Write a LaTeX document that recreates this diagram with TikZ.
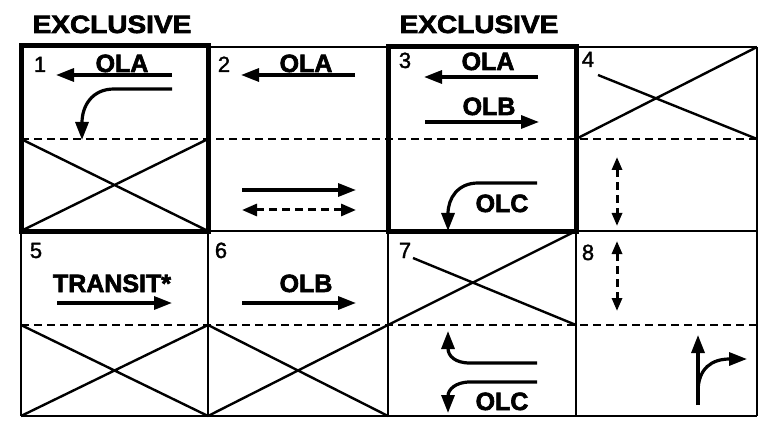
\documentclass[tikz,border=0pt]{standalone}
\usepackage{fontspec}
\setmainfont{Liberation Sans}
\newfontfamily\heavyfont{Liberation Sans Bold}[FakeBold=2.5]
\newfontfamily\digitfont{Liberation Sans}[FakeBold=1.5]
\usetikzlibrary{arrows.meta}
\begin{document}
\begin{tikzpicture}[x=1pt,y=-1pt,
  gridline/.style={line width=2.8pt},
  thickbox/.style={line width=5pt},
  lane/.style={line width=2.8pt, dash pattern=on 8pt off 5pt},
  xline/.style={line width=2.4pt},
  arr/.style={line width=3.2pt,-{Triangle[length=18pt,width=13pt]}},
  darr/.style={line width=3pt,{Triangle[length=15pt,width=12pt]}-{Triangle[length=15pt,width=12pt]},dash pattern=on 8pt off 5pt},
  vdarr/.style={line width=3pt,{Triangle[length=13pt,width=10pt]}-{Triangle[length=13pt,width=10pt]},dash pattern=on 8pt off 5pt},
  lbl/.style={font=\fontsize{25}{25}\selectfont\heavyfont, inner sep=0pt, anchor=base},
  num/.style={font=\fontsize{22}{22}\selectfont\digitfont, inner sep=0pt, anchor=base},
]
\useasboundingbox (0,0) rectangle (759,438);
\fill[white] (0,0) rectangle (759,438);

% headings
\node[lbl] (ex1) at (112,33) {\scalebox{1.12}[1]{EXCLUSIVE}};
\node[lbl] (ex2) at (479,33) {\scalebox{1.12}[1]{EXCLUSIVE}};

% lane dividers (dashed)
\draw[lane] (21,139) -- (757,139);
\draw[lane] (21,325) -- (757,325);

% grid
\draw[gridline] (21,47) -- (757,47);
\draw[gridline] (21,231) -- (757,231);
\draw[gridline] (21,416) -- (757,416);
\foreach \x in {21,208,388,576,757} \draw[gridline] (\x,47) -- (\x,416);

% exclusive boxes
\draw[thickbox] (21,46) rectangle (208,231);
\draw[thickbox] (388,47) rectangle (576,231);

% crossed-out zones
\draw[xline] (21,139) -- (208,231) (21,231) -- (208,139);
\draw[xline] (598,75) -- (757,139) (576,139) -- (757,47);
\draw[xline] (21,325) -- (208,416) (21,416) -- (208,325);
\draw[xline] (208,325) -- (388,416) (208,416) -- (388,325);
\draw[xline] (413,258) -- (576,325) (388,325) -- (576,231);

% numbers
\node[num] (n1) at (40,72) {1};
\node[num] (n2) at (224,72) {2};
\node[num] (n3) at (405,68) {3};
\node[num] (n4) at (588,67) {4};
\node[num] (n5) at (36,258) {5};
\node[num] (n6) at (221,258) {6};
\node[num] (n7) at (405,258) {7};
\node[num] (n8) at (588,260) {8};

% cell 1
\node[lbl] (ola1) at (122,72) {OLA};
\draw[arr] (172,75) -- (56,75);
\draw[arr] (172,89) -- (114,89) .. controls (92,89) and (82,106) .. (82,140);

% cell 2
\node[lbl] (ola2) at (306,72) {OLA};
\draw[arr] (355,75) -- (241,75);
\draw[arr] (242,190) -- (356,190);
\draw[darr] (242,210) -- (356,210);

% cell 3
\node[lbl] (ola3) at (488,70) {OLA};
\draw[arr] (538,77) -- (424,77);
\node[lbl] (olb3) at (489,115) {OLB};
\draw[arr] (425,122) -- (539,122);
\node[lbl] (olc3) at (502,212) {OLC};
\draw[arr] (537,183) -- (478,183) .. controls (458,183) and (448,198) .. (448,231);

% cell 4
\draw[vdarr] (617,157) -- (617,226);

% cell 5
\node[lbl] (tr5) at (112,292) {TRANSIT*};
\draw[arr] (57,303) -- (172,303);

% cell 6
\node[lbl] (olb6) at (306,292) {OLB};
\draw[arr] (242,303) -- (356,303);

% cell 7
\draw[arr] (537,363) -- (470,363) .. controls (455,363) and (448,356) .. (448,331);
\draw[arr] (537,382) -- (470,382) .. controls (455,382) and (448,390) .. (448,413);
\node[lbl] (olc7) at (502,410) {OLC};

% cell 8
\draw[vdarr] (617,241) -- (617,311);
\draw[arr] (698,405) -- (698,335);
\draw[arr] (698,392) .. controls (698,368) and (712,359) .. (747,359);
\end{tikzpicture}
\end{document}
